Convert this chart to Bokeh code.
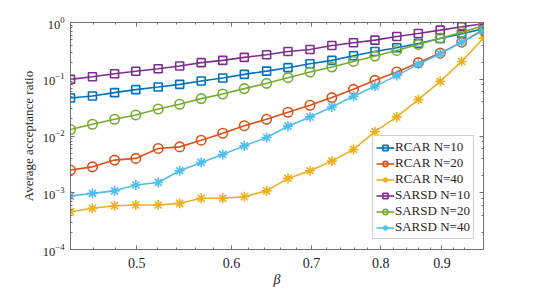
from bokeh.plotting import figure
from bokeh.models import (FixedTicker, LogAxis, LogTicker, PrintfTickFormatter,
                          CustomJSTickFormatter, Legend, LegendItem, Range1d)
from bokeh.embed import file_html
from bokeh.resources import INLINE

beta = [0.440, 0.459, 0.479, 0.499, 0.521, 0.543, 0.566, 0.590, 0.615, 0.642,
        0.669, 0.698, 0.728, 0.759, 0.791, 0.825, 0.860, 0.897, 0.935, 0.975]

rcar_10 = [0.0468, 0.0507, 0.0581, 0.0656, 0.0729, 0.0813, 0.0929, 0.105, 0.122, 0.139,
           0.160, 0.188, 0.215, 0.260, 0.309, 0.359, 0.428, 0.524, 0.633, 0.775]
rcar_20 = [0.00251, 0.00286, 0.00376, 0.00403, 0.00604, 0.00643, 0.00844, 0.0112, 0.0152, 0.0197,
           0.0262, 0.0348, 0.0475, 0.0664, 0.0957, 0.134, 0.196, 0.289, 0.451, 0.744]
rcar_40 = [0.000464, 0.000532, 0.000591, 0.000608, 0.000608, 0.000651, 0.000798, 0.000798, 0.000851, 0.00108,
           0.00179, 0.00244, 0.00361, 0.00579, 0.0119, 0.0217, 0.0438, 0.0918, 0.206, 0.530]
sarsd_10 = [0.0995, 0.111, 0.125, 0.138, 0.153, 0.171, 0.196, 0.215, 0.243, 0.271,
            0.309, 0.335, 0.394, 0.440, 0.489, 0.567, 0.641, 0.733, 0.840, 0.949]
sarsd_20 = [0.0130, 0.0161, 0.0197, 0.0235, 0.0299, 0.0362, 0.0456, 0.0549, 0.0684, 0.0847,
            0.1067, 0.134, 0.164, 0.206, 0.256, 0.322, 0.411, 0.530, 0.676, 0.875]
sarsd_40 = [0.000875, 0.000976, 0.00108, 0.00137, 0.00152, 0.00244, 0.00342, 0.00473, 0.0067, 0.00941,
            0.0149, 0.0217, 0.0325, 0.0500, 0.0750, 0.117, 0.183, 0.282, 0.451, 0.723]

series_labels = ["RCAR N=10", "RCAR N=20", "RCAR N=40", "SARSD N=10", "SARSD N=20", "SARSD N=40"]
x_ticks = [0.5, 0.6, 0.7, 0.8, 0.9]
x_minor = [0.44, 0.46, 0.48, 0.52, 0.54, 0.56, 0.58, 0.62, 0.64, 0.66, 0.68,
           0.72, 0.74, 0.76, 0.78, 0.82, 0.84, 0.86, 0.88, 0.92, 0.94]

series = [rcar_10, rcar_20, rcar_40, sarsd_10, sarsd_20, sarsd_40]
colors = ["#0072BD", "#D95319", "#EDB120", "#7E2F8E", "#77AC30", "#4DBEEE"]
markers = ["square", "circle", "asterisk", "square", "circle", "asterisk"]
msizes = [8, 9.5, 10, 8, 9.5, 10]

SERIF = "Liberation Serif"
AX = "#707070"
TXT = "#262626"

p = figure(width=534, height=291, x_axis_type="log", y_axis_type="log",
           x_range=Range1d(beta[0], beta[-1]), y_range=Range1d(1e-4, 1),
           output_backend="svg", toolbar_location=None,
           min_border_left=70, min_border_right=51, min_border_top=22, min_border_bottom=42)
p.grid.visible = False
p.outline_line_color = AX
p.outline_line_width = 1
p.background_fill_color = "white"

p.xaxis.ticker = FixedTicker(ticks=x_ticks, minor_ticks=x_minor)
p.xaxis.formatter = PrintfTickFormatter(format="%.1f")
for ax in p.xaxis + p.yaxis:
    ax.axis_line_color = AX
    ax.major_tick_line_color = AX
    ax.minor_tick_line_color = AX
    ax.major_tick_in = 4
    ax.major_tick_out = 0
    ax.minor_tick_in = 2
    ax.minor_tick_out = 0
    ax.major_label_text_font = SERIF
    ax.major_label_text_color = TXT
    ax.axis_label_text_font = SERIF
    ax.axis_label_text_font_style = "normal"
    ax.axis_label_text_color = TXT
p.xaxis.major_label_text_font_size = "14px"
p.yaxis.major_label_text_font_size = "12.5px"
p.xaxis.axis_label = "β"
p.xaxis.axis_label_text_font_style = "italic"
p.xaxis.axis_label_text_font_size = "14px"
p.xaxis.axis_label_standoff = 1
p.xaxis.major_label_standoff = 8
p.yaxis.axis_label = "Average acceptance ratio"
p.yaxis.axis_label_text_font_size = "13px"
p.yaxis.axis_label_standoff = 4
p.yaxis.major_label_standoff = 6

top = LogAxis(ticker=FixedTicker(ticks=x_ticks, minor_ticks=x_minor),
              formatter=CustomJSTickFormatter(code="return ''"),
              axis_line_color=None, major_label_standoff=0,
              major_tick_line_color=AX, minor_tick_line_color=AX,
              major_tick_in=4, major_tick_out=0, minor_tick_in=2, minor_tick_out=0)
p.add_layout(top, "above")
right = LogAxis(ticker=LogTicker(), formatter=CustomJSTickFormatter(code="return ''"),
                axis_line_color=None, major_label_standoff=0,
                major_tick_line_color=AX, minor_tick_line_color=AX,
                major_tick_in=4, major_tick_out=0, minor_tick_in=2, minor_tick_out=0)
p.add_layout(right, "right")

items = []
for lab, ys, c, m, s in zip(series_labels, series, colors, markers, msizes):
    lr = p.line(beta, ys, line_color=c, line_width=1.6)
    sr = p.scatter(beta, ys, marker=m, size=s, line_color=c, fill_color=None, line_width=1.6)
    items.append(LegendItem(label=lab, renderers=[lr, sr]))

legend = Legend(items=items, location=(302, 10), label_text_font=SERIF,
                label_text_font_size="13px", label_text_color=TXT,
                glyph_width=18, glyph_height=13, label_height=13, label_standoff=1,
                spacing=0, padding=3, margin=0,
                border_line_color="#a0a0a0", border_line_width=1,
                background_fill_color="white", background_fill_alpha=1)
p.add_layout(legend, "center")

open("out.html", "w").write(file_html(p, INLINE))
